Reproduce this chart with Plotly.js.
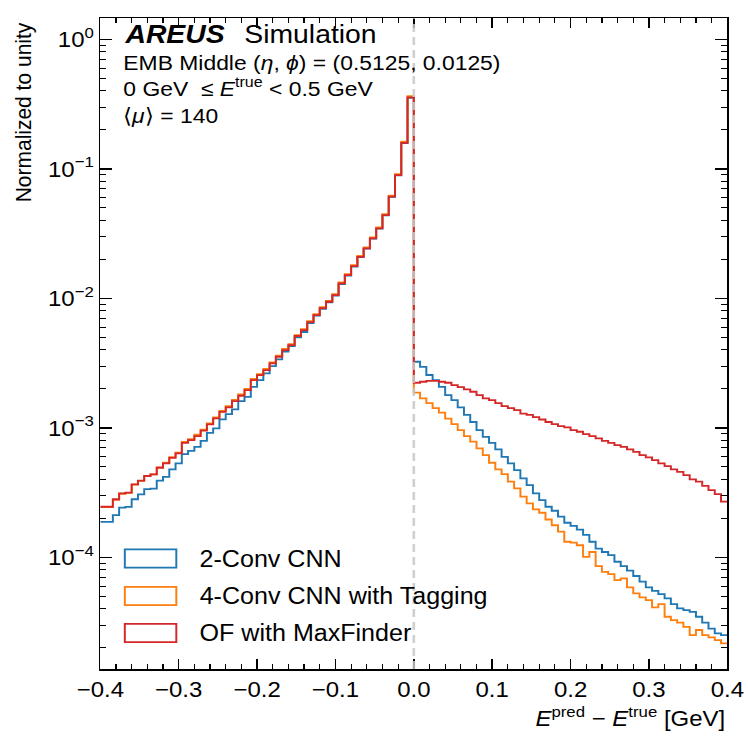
<!DOCTYPE html>
<html>
<head>
<meta charset="utf-8">
<script src="https://cdn.plot.ly/plotly-3.0.1.min.js"></script>
<style>
html,body{margin:0;padding:0;background:#fff;overflow:hidden;}
#plot{width:686px;height:737px;transform:scaleX(1.0904);transform-origin:0 0;}
</style>
</head>
<body>
<div id="plot"></div>
<script>
// ---- data (fraction of entries per bin) ----
const binStart = -0.4;
const binWidth = 0.008;
const nBins = 100;
const seriesNames = ["2-Conv CNN", "4-Conv CNN with Tagging", "OF with MaxFinder"];
const seriesColors = ["#1f77b4", "#ff7f0e", "#d62728"];

const cnn2 = [
1.88e-4,1.88e-4,2.12e-4,2.42e-4,2.45e-4,2.81e-4,3.06e-4,3.37e-4,3.39e-4,3.91e-4,
4.19e-4,4.78e-4,5.32e-4,6.28e-4,6.65e-4,7.14e-4,7.94e-4,9.16e-4,9.91e-4,1.164e-3,
1.279e-3,1.390e-3,1.611e-3,1.738e-3,2.075e-3,2.339e-3,2.636e-3,3.000e-3,3.381e-3,3.873e-3,
4.285e-3,5.00e-3,5.50e-3,6.45e-3,7.35e-3,8.30e-3,9.30e-3,1.05e-2,1.29e-2,1.50e-2,
1.76e-2,2.08e-2,2.42e-2,2.89e-2,3.46e-2,4.38e-2,6.08e-2,8.90e-2,0.158,0.354,
3.24e-3,2.96e-3,2.56e-3,2.34e-3,2.07e-3,1.79e-3,1.64e-3,1.44e-3,1.26e-3,1.11e-3,
9.62e-4,8.53e-4,7.67e-4,6.82e-4,5.98e-4,5.32e-4,4.72e-4,4.07e-4,3.61e-4,3.12e-4,
2.77e-4,2.46e-4,2.29e-4,2.06e-4,1.85e-4,1.75e-4,1.64e-4,1.49e-4,1.32e-4,1.17e-4,
1.10e-4,1.04e-4,9.25e-5,8.57e-5,7.89e-5,7.18e-5,6.49e-5,5.86e-5,5.52e-5,5.20e-5,
4.82e-5,4.36e-5,4.04e-5,3.92e-5,3.80e-5,3.48e-5,3.13e-5,2.82e-5,2.59e-5,2.51e-5];

const cnn4 = [
2.44e-4,2.44e-4,2.78e-4,3.10e-4,3.15e-4,3.64e-4,3.90e-4,4.24e-4,4.38e-4,4.95e-4,
5.38e-4,5.95e-4,6.45e-4,7.80e-4,8.20e-4,8.85e-4,9.70e-4,1.085e-3,1.205e-3,1.355e-3,
1.47e-3,1.645e-3,1.81e-3,2.00e-3,2.39e-3,2.60e-3,2.85e-3,3.21e-3,3.61e-3,4.07e-3,
4.44e-3,5.21e-3,5.79e-3,6.67e-3,7.55e-3,8.55e-3,9.58e-3,1.077e-2,1.328e-2,1.54e-2,
1.805e-2,2.13e-2,2.475e-2,2.955e-2,3.535e-2,4.47e-2,6.20e-2,9.10e-2,0.162,0.364,
1.87e-3,1.69e-3,1.55e-3,1.42e-3,1.31e-3,1.18e-3,1.07e-3,9.62e-4,8.65e-4,7.82e-4,
6.95e-4,6.17e-4,5.38e-4,4.78e-4,4.40e-4,3.84e-4,3.41e-4,2.94e-4,2.61e-4,2.35e-4,
2.21e-4,1.96e-4,1.77e-4,1.58e-4,1.32e-4,1.30e-4,1.24e-4,1.01e-4,1.10e-4,8.57e-5,
7.74e-5,7.43e-5,6.68e-5,6.89e-5,5.86e-5,5.27e-5,4.91e-5,4.68e-5,4.11e-5,4.36e-5,
3.48e-5,3.28e-5,3.13e-5,2.91e-5,2.51e-5,2.75e-5,2.51e-5,2.41e-5,2.30e-5,2.17e-5];

const ofmf = [
2.46e-4,2.46e-4,2.81e-4,3.12e-4,3.16e-4,3.66e-4,3.91e-4,4.25e-4,4.38e-4,4.92e-4,
5.32e-4,5.87e-4,6.35e-4,7.67e-4,8.05e-4,8.65e-4,9.51e-4,1.064e-3,1.183e-3,1.330e-3,
1.439e-3,1.611e-3,1.770e-3,1.959e-3,2.339e-3,2.553e-3,2.793e-3,3.148e-3,3.540e-3,3.99e-3,
4.36e-3,5.12e-3,5.69e-3,6.56e-3,7.43e-3,8.41e-3,9.42e-3,1.059e-2,1.306e-2,1.514e-2,
1.774e-2,2.094e-2,2.432e-2,2.904e-2,3.475e-2,4.40e-2,6.10e-2,8.95e-2,0.159,0.356,
2.23e-3,2.27e-3,2.31e-3,2.31e-3,2.27e-3,2.23e-3,2.14e-3,2.06e-3,1.98e-3,1.90e-3,
1.79e-3,1.69e-3,1.64e-3,1.55e-3,1.47e-3,1.42e-3,1.37e-3,1.29e-3,1.26e-3,1.21e-3,
1.16e-3,1.11e-3,1.07e-3,1.03e-3,1.01e-3,9.62e-4,9.33e-4,8.95e-4,8.65e-4,8.30e-4,
7.94e-4,7.67e-4,7.36e-4,7.14e-4,6.82e-4,6.53e-4,6.17e-4,5.92e-4,5.64e-4,5.32e-4,
5.07e-4,4.78e-4,4.58e-4,4.32e-4,4.00e-4,3.84e-4,3.56e-4,3.31e-4,3.08e-4,2.69e-4];

const yTickVals = [1e-4, 1e-3, 1e-2, 1e-1, 1];
const yTickText = ["10<sup>−4</sup>","10<sup>−3</sup>","10<sup>−2</sup>","10<sup>−1</sup>","10<sup>0</sup>"];
const refLineX = 0;

// ---- build ----
const FONT = "Liberation Sans, Arial, Helvetica, sans-serif";
const edges = [];
for (let i = 0; i <= nBins; i++) edges.push(+(binStart + i * binWidth).toFixed(6));

function stepTrace(vals, color, name) {
  return {
    type: "scatter", mode: "lines", name: name,
    x: edges, y: vals.concat([vals[vals.length - 1]]),
    line: {shape: "hv", color: color, width: 1.8},
    hoverinfo: "skip"
  };
}
const allSeries = [cnn2, cnn4, ofmf];
const traces = allSeries.map((v, i) => stepTrace(v, seriesColors[i], seriesNames[i]));

const minorY = [];
for (let e = -5; e <= 0; e++) for (let m = 2; m <= 9; m++) minorY.push(m * Math.pow(10, e));

// reference pixel -> paper coordinates
const FL = 100, FR = 727, FT = 18, FB = 669;
const px = X => (X - FL) / (FR - FL);
const py = Y => 1 - (Y - FT) / (FB - FT);
const S = 748 / 686;

const ann = [];
function txt(text, X, Y, size, xa, ya, extra) {
  ann.push(Object.assign({text: text, x: px(X), y: py(Y), xref: "paper", yref: "paper",
    xanchor: xa, yanchor: ya, showarrow: false, font: {family: FONT, size: size, color: "#000"}}, extra || {}));
}
txt("<b><i>AREUS</i></b>", 122, 34, 26, "left", "middle");
txt("Simulation", 242, 34, 26, "left", "middle");
txt("EMB Middle (<i>η</i>, <i>ϕ</i>) = (0.5125, 0.0125)", 121, 62, 21, "left", "middle");
txt("0 GeV  ≤ <i>E</i><sup>true</sup> &lt; 0.5 GeV", 121, 87, 21, "left", "middle");
txt("⟨<i>μ</i>⟩ = 140", 121, 115, 21, "left", "middle");
txt("Normalized to unity", 23, 20, 21, "center", "top", {textangle: -90});
txt("<i>E</i><sup>pred</sup> − <i>E</i><sup>true</sup> [GeV]", 727, 717, 22, "right", "middle");

const shapes = [];
const legRows = [558.5, 596, 633];
legRows.forEach((yc, i) => {
  shapes.push({type: "rect", xref: "paper", yref: "paper", x0: px(124.5), x1: px(176), y0: py(yc - 9.2), y1: py(yc + 9.2),
    line: {color: seriesColors[i], width: 1.8}, fillcolor: "rgba(0,0,0,0)", layer: "above"});
  txt(seriesNames[i], 197, yc, 23, "left", "middle");
});
shapes.push({type: "line", xref: "x", yref: "paper", x0: refLineX, x1: refLineX, y0: 0, y1: 1,
  line: {color: "rgba(200,200,200,0.85)", width: 2.4, dash: "8px,5px"}, layer: "above"});

const axisCommon = {
  showline: true, linecolor: "#000", linewidth: 1.5, mirror: "ticks",
  ticks: "inside", tickcolor: "#000", tickwidth: 1.4,
  showgrid: false, zeroline: false,
  tickfont: {family: FONT, size: 22, color: "#000"}
};

const layout = {
  width: 686, height: 737,
  margin: {l: FL / S, r: 686 - FR / S, t: FT, b: 737 - FB, pad: 0},
  paper_bgcolor: "#fff", plot_bgcolor: "#fff",
  showlegend: false,
  xaxis: Object.assign({}, axisCommon, {
    range: [binStart, binStart + nBins * binWidth], tick0: 0, dtick: 0.1, tickformat: ".1f", ticklen: 10,
    minor: {ticks: "inside", dtick: 0.02, tick0: 0, ticklen: 5, tickcolor: "#000", tickwidth: 1.1, showgrid: false}
  }),
  yaxis: Object.assign({}, axisCommon, {
    type: "log", range: [-4.862, 0.165], tickmode: "array", tickvals: yTickVals, ticktext: yTickText, ticklen: 11,
    minor: {ticks: "inside", tickmode: "array", tickvals: minorY, ticklen: 5.5, tickcolor: "#000", tickwidth: 1.1, showgrid: false}
  }),
  annotations: ann,
  shapes: shapes
};

Plotly.newPlot("plot", traces, layout, {staticPlot: true, displayModeBar: false});
</script>
</body>
</html>
